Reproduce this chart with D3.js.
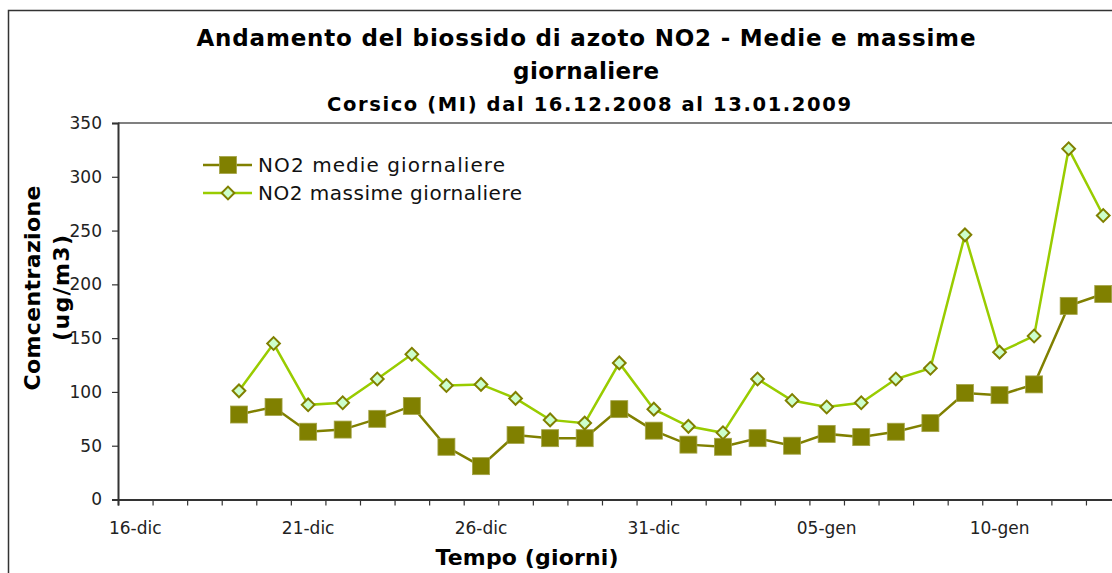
<!DOCTYPE html>
<html>
<head>
<meta charset="utf-8">
<script src="https://cdn.jsdelivr.net/npm/d3@7"></script>
<style>
  html, body { margin: 0; padding: 0; background: #fff; }
  svg { display: block; font-family: "DejaVu Sans", Verdana, sans-serif; }
</style>
</head>
<body>
<svg id="chart" width="1112" height="573"></svg>
<script>
// Daily categories from 16 December 2008 to 13 January 2009
const days = [
  "16-dic","17-dic","18-dic","19-dic","20-dic","21-dic","22-dic","23-dic",
  "24-dic","25-dic","26-dic","27-dic","28-dic","29-dic","30-dic","31-dic",
  "01-gen","02-gen","03-gen","04-gen","05-gen","06-gen","07-gen","08-gen",
  "09-gen","10-gen","11-gen","12-gen","13-gen"
];
// Measurements start on 19-dic
const firstMeasuredDay = "19-dic";
const medie = [79, 86, 63, 65, 75, 87, 49, 31, 60, 57, 57, 84, 64,
               51, 49, 57, 50, 61, 58, 63, 71, 99, 97, 107, 180, 191];
const massime = [101, 145, 88, 90, 112, 135, 106, 107, 94, 74, 71, 127, 84,
                 68, 62, 112, 92, 86, 90, 112, 122, 246, 137, 152, 326, 264];
const labeledDays = ["16-dic", "21-dic", "26-dic", "31-dic", "05-gen", "10-gen"];
const yTicks = [0, 50, 100, 150, 200, 250, 300, 350];

const titleLines = [
  "Andamento del biossido di azoto NO2 - Medie e massime",
  "giornaliere",
  "Corsico (MI) dal 16.12.2008 al 13.01.2009"
];
const seriesNames = ["NO2 medie giornaliere", "NO2 massime giornaliere"];

const svg = d3.select("#chart");
const W = 1112, H = 573;

const plot = { left: 118, top: 123, bottom: 499.5, band: 34.57 };
const x = d3.scaleBand().domain(days)
  .range([plot.left, plot.left + plot.band * days.length]).padding(0);
const xEdge = d3.scaleLinear().domain([0, days.length])
  .range([plot.left, plot.left + plot.band * days.length]);
const y = d3.scaleLinear().domain([0, 350]).range([plot.bottom, plot.top]);

// Outer chart frame
svg.append("path")
  .attr("d", `M8.5,${H} V10.5 H${W}`)
  .attr("fill", "none").attr("stroke", "#333").attr("stroke-width", 1.5);

// Title (wide, Verdana-like spacing)
const title = svg.append("g").attr("font-weight", "bold").attr("fill", "#000")
  .attr("text-anchor", "middle");
title.append("text").attr("x", 586).attr("y", 46).attr("font-size", 23)
  .attr("textLength", 779).attr("lengthAdjust", "spacing").text(titleLines[0]);
title.append("text").attr("x", 586).attr("y", 79).attr("font-size", 23)
  .attr("textLength", 146).attr("lengthAdjust", "spacing").text(titleLines[1]);
title.append("text").attr("x", 589).attr("y", 111).attr("font-size", 19.5)
  .attr("textLength", 524).attr("lengthAdjust", "spacing").text(titleLines[2]);

// Top border of the plot area
svg.append("line")
  .attr("x1", plot.left).attr("x2", W).attr("y1", plot.top).attr("y2", plot.top)
  .attr("stroke", "#808080").attr("stroke-width", 2);

// Y axis
const yAxis = svg.append("g").attr("transform", `translate(${plot.left},0)`)
  .call(d3.axisLeft(y).tickValues(yTicks).tickSize(6).tickPadding(10).tickFormat(d3.format("d")));
yAxis.select(".domain").attr("stroke", "#333").attr("stroke-width", 2);
yAxis.selectAll(".tick line").attr("stroke", "#333").attr("stroke-width", 1.2);
yAxis.selectAll("text").attr("font-size", 17).attr("fill", "#222")
  .attr("font-family", "DejaVu Sans, sans-serif");

// X axis: tick marks on category boundaries
const xTickAxis = svg.append("g").attr("transform", `translate(0,${plot.bottom})`)
  .call(d3.axisBottom(xEdge).tickValues(d3.range(0, days.length + 1)).tickSize(6).tickFormat(""));
xTickAxis.select(".domain").attr("stroke", "#333").attr("stroke-width", 2);
xTickAxis.selectAll(".tick line").attr("stroke", "#333").attr("stroke-width", 1.2);

// X axis labels centred in their category
const xLabelAxis = svg.append("g").attr("transform", `translate(0,${plot.bottom})`)
  .call(d3.axisBottom(x).tickValues(labeledDays).tickSize(0).tickPadding(22));
xLabelAxis.select(".domain").remove();
xLabelAxis.selectAll("text").attr("font-size", 17).attr("fill", "#222")
  .attr("font-family", "DejaVu Sans, sans-serif");

// Axis titles
svg.append("text").attr("x", 527).attr("y", 565).attr("text-anchor", "middle")
  .attr("font-weight", "bold").attr("font-size", 22)
  .attr("textLength", 183).attr("lengthAdjust", "spacing").text("Tempo (giorni)");
const yTitle = svg.append("text").attr("transform", "translate(40,288) rotate(-90)")
  .attr("text-anchor", "middle").attr("font-weight", "bold").attr("font-size", 22);
yTitle.append("tspan").attr("x", 0).attr("dy", 0)
  .attr("textLength", 205).attr("lengthAdjust", "spacing").text("Comcentrazione");
yTitle.append("tspan").attr("x", 0).attr("dy", 29)
  .attr("textLength", 106).attr("lengthAdjust", "spacing").text("(ug/m3)");

// Series
const start = days.indexOf(firstMeasuredDay);
const toPoints = vals => vals.map((v, i) => ({ day: days[start + i], v }));
const cx = d => x(d.day) + x.bandwidth() / 2;
const line = d3.line().x(cx).y(d => y(d.v));

const medPts = toPoints(medie);
const maxPts = toPoints(massime);

svg.append("path").datum(maxPts).attr("d", line)
  .attr("fill", "none").attr("stroke", "#99CC00").attr("stroke-width", 2.5);
svg.append("path").datum(medPts).attr("d", line)
  .attr("fill", "none").attr("stroke", "#808000").attr("stroke-width", 2.5);

const sq = 17;
svg.append("g").selectAll("rect").data(medPts).join("rect")
  .attr("x", d => cx(d) - sq / 2).attr("y", d => y(d.v) - sq / 2)
  .attr("width", sq).attr("height", sq)
  .attr("fill", "#808000").attr("stroke", "#a3a347").attr("stroke-width", 0.8);

const diamond = d3.symbol().type(d3.symbolSquare).size(81);
svg.append("g").selectAll("path").data(maxPts).join("path")
  .attr("d", diamond)
  .attr("transform", d => `translate(${cx(d)},${y(d.v)}) rotate(45)`)
  .attr("fill", "#CCFFCC").attr("stroke", "#808000").attr("stroke-width", 2);

// Legend
const legend = svg.append("g").attr("transform", "translate(203,0)");
const rows = [
  { name: seriesNames[0], yy: 165, color: "#808000", marker: "square", len: 247 },
  { name: seriesNames[1], yy: 193, color: "#99CC00", marker: "diamond", len: 264 }
];
rows.forEach(r => {
  legend.append("line").attr("x1", 0).attr("x2", 49).attr("y1", r.yy).attr("y2", r.yy)
    .attr("stroke", r.color).attr("stroke-width", 2.5);
  if (r.marker === "square") {
    legend.append("rect").attr("x", 25 - sq / 2).attr("y", r.yy - sq / 2)
      .attr("width", sq).attr("height", sq)
      .attr("fill", "#808000").attr("stroke", "#a3a347").attr("stroke-width", 0.8);
  } else {
    legend.append("path").attr("d", diamond)
      .attr("transform", `translate(25,${r.yy}) rotate(45)`)
      .attr("fill", "#CCFFCC").attr("stroke", "#808000").attr("stroke-width", 2);
  }
  legend.append("text").attr("x", 55).attr("y", r.yy + 7).attr("font-size", 20)
    .attr("textLength", r.len).attr("lengthAdjust", "spacing")
    .attr("fill", "#111").text(r.name);
});
</script>
</body>
</html>
